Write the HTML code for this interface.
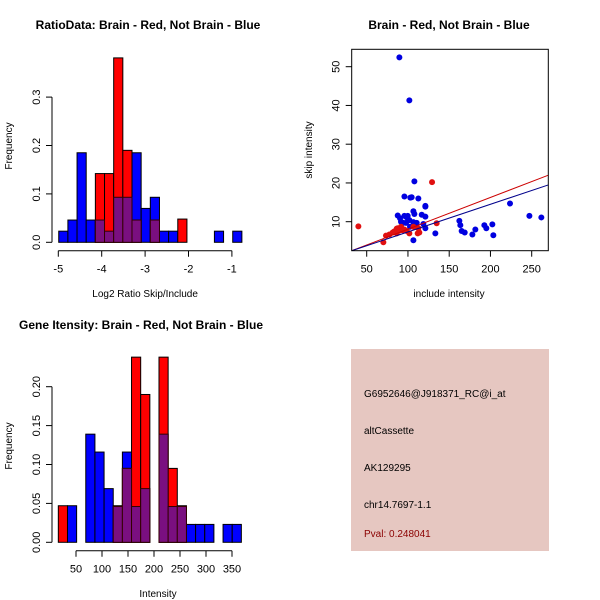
<!DOCTYPE html>
<html><head><meta charset="utf-8"><style>
body{margin:0;background:#fff}
svg{display:block;font-family:"Liberation Sans",sans-serif}
</style></head><body>
<svg id="chart" width="600" height="600" xmlns="http://www.w3.org/2000/svg">
<rect width="600" height="600" fill="#fff"/>
<text x="148" y="29" font-size="12" font-weight="bold" text-anchor="middle">RatioData: Brain - Red, Not Brain - Blue</text>
<text x="449" y="29" font-size="12" font-weight="bold" text-anchor="middle">Brain - Red, Not Brain - Blue</text>
<text x="141" y="329" font-size="12" font-weight="bold" text-anchor="middle">Gene Itensity: Brain - Red, Not Brain - Blue</text>
<g id="h1"></g>
<g id="h2"></g>
<g id="sc"></g>
<g>
<rect x="351" y="349" width="198" height="202" fill="#e6c7c1"/>
<text x="364" y="397" font-size="10">G6952646@J918371_RC@i_at</text>
<text x="364" y="434" font-size="10">altCassette</text>
<text x="364" y="471" font-size="10">AK129295</text>
<text x="364" y="508" font-size="10">chr14.7697-1.1</text>
<text x="364" y="537" font-size="10" fill="#8b0000">Pval: 0.248041</text>
</g>
</svg>
<script>
// Ratio histogram data
const h1Start = -4.99, h1Width = 0.211;
const h1Blue = [0.023,0.046,0.185,0.046,0.046,0.023,0.093,0.093,0.185,0.07,0.093,0.023,0.023,0,0,0,0,0.023,0,0.023];
const h1Red  = [0,0,0,0,0.142,0.142,0.381,0.19,0.046,0,0.046,0,0,0.048,0,0,0,0,0,0];
const h1XTicks = [-5,-4,-3,-2,-1];
const h1YTicks = ["0.0","0.1","0.2","0.3"];
// Intensity histogram data
const h2Start = 16, h2Width = 17.6;
const h2Blue = [0,0.047,0,0.139,0.116,0.069,0.046,0.116,0.046,0.069,0,0.139,0.046,0.046,0.023,0.023,0.023,0,0.023,0.023];
const h2Red  = [0.047,0,0,0,0,0,0.047,0.095,0.238,0.19,0,0.238,0.095,0.047,0,0,0,0,0,0];
const h2XTicks = [50,100,150,200,250,300,350];
const h2YTicks = ["0.00","0.05","0.10","0.15","0.20"];
// Scatter data
const blueX = [89.6,101.7,107.8,95.7,104.5,102.9,112.6,121.1,121.1,106.6,87.6,95.7,99.7,107.8,116.7,121.1,90.4,98.5,101.7,106.6,91.6,97.7,110.6,118.7,121.1,106.6,133.2,162.3,163.5,165.1,168.8,178.1,181.7,192.6,195.0,202.3,203.5,223.7,247.2,261.7,102.5,94.4];
const blueY = [52.4,41.3,20.4,16.5,16.3,16.2,16.0,14.1,13.9,12.7,11.6,11.5,11.5,12.0,11.8,11.3,10.9,11.1,10.4,9.9,10.0,9.7,9.7,9.4,8.3,5.2,7.0,10.2,9.1,7.6,7.2,6.7,8.0,9.1,8.3,9.3,6.5,14.7,11.5,11.1,8.7,9.7];
const redX = [39.9,70.2,73.4,77.5,81.5,83.5,86.4,87.6,89.6,91.6,93.6,95.7,98.5,101.7,106.6,112.6,113.8,111.8,134.8,129.2,86.4];
const redY = [8.8,4.7,6.4,6.7,7.2,7.5,7.0,8.3,7.7,8.7,7.8,8.0,7.6,7.0,8.7,8.3,7.2,7.0,9.6,20.2,8.2];
const fitRed = [-0.1,0.0818];
const fitBlue = [0.23,0.0713];
const scXTicks = [50,100,150,200,250];
const scYTicks = [10,20,30,40,50];

const NS="http://www.w3.org/2000/svg";
function mk(parent,tag,attrs,text){const e=document.createElementNS(NS,tag);for(const k in attrs)e.setAttribute(k,attrs[k]);if(text!==undefined)e.textContent=text;parent.appendChild(e);return e;}

function hist(g,start,w,blue,red,xs,ys,ysc,xticks,yticks,yStep,axisY,yAxisX,ytop,xlabel,ycenter,xlabelY){
  blue.forEach((v,i)=>{ if(v<=0)return;
    const b=mk(g,'rect',{x:xs(start+i*w),y:ys(v),width:xs(start+(i+1)*w)-xs(start+i*w),height:ys(0)-ys(v),fill:'#0000ff',stroke:'#000','stroke-width':1});
     });
  red.forEach((v,i)=>{ if(v<=0)return;
    const b=mk(g,'rect',{x:xs(start+i*w),y:ys(v),width:xs(start+(i+1)*w)-xs(start+i*w),height:ys(0)-ys(v),fill:'#ff0000',stroke:'#000','stroke-width':1});
     });
  blue.forEach((v,i)=>{ const m=Math.min(v,red[i]); if(m<=0)return;
    const b=mk(g,'rect',{x:xs(start+i*w),y:ys(m),width:xs(start+(i+1)*w)-xs(start+i*w),height:ys(0)-ys(m),fill:'#7a0f80',stroke:'#300','stroke-width':1});
     });
  // x axis
  mk(g,'line',{x1:xs(xticks[0]),x2:xs(xticks[xticks.length-1]),y1:axisY,y2:axisY,stroke:'#000'});
  xticks.forEach(t=>{mk(g,'line',{x1:xs(t),x2:xs(t),y1:axisY,y2:axisY+6,stroke:'#000'});
    const l=mk(g,'text',{x:xs(t),y:axisY+22,'font-size':11,'text-anchor':'middle'},String(t));
     });
  // y axis
  const yv=yticks.map(Number);
  mk(g,'line',{x1:yAxisX,x2:yAxisX,y1:ys(yv[0]),y2:ys(yv[yv.length-1]),stroke:'#000'});
  yticks.forEach(t=>{const y=ys(Number(t));mk(g,'line',{x1:yAxisX-6,x2:yAxisX,y1:y,y2:y,stroke:'#000'});
    const l=mk(g,'text',{x:yAxisX-12,y:y,'font-size':11,'text-anchor':'middle',transform:`rotate(-90 ${yAxisX-12} ${y})`},t);
     });
  const xl=mk(g,'text',{x:(xs(xticks[0])+xs(xticks[xticks.length-1]))/2+ (xlabel==='Intensity'?4:0),y:xlabelY,'font-size':10,'text-anchor':'middle'},xlabel);
   
  const yl=mk(g,'text',{x:12,y:ycenter,'font-size':10,'text-anchor':'middle',transform:`rotate(-90 12 ${ycenter})`},'Frequency');
   
}

// Histogram 1
(function(){
  const g=document.getElementById('h1');
  const xs=v=>58.3+(v+5)*43.4;
  const ys=v=>242.3-v*484;
  hist(g,h1Start,h1Width,h1Blue,h1Red,xs,ys,null,h1XTicks,h1YTicks,0.1,250.7,52,0,'Log2 Ratio Skip/Include',146,297);
})();
// Histogram 2
(function(){
  const g=document.getElementById('h2');
  const xs=v=>76+(v-50)*0.52;
  const ys=v=>542.3-v*778;
  hist(g,h2Start,h2Width,h2Blue,h2Red,xs,ys,null,h2XTicks,h2YTicks,0.05,550.7,52,0,'Intensity',446,597);
})();
// Scatter
(function(){
  const g=document.getElementById('sc');
  const xs=v=>366.7+(v-50)*0.825;
  const ys=v=>221.7-(v-10)*3.875;
  const L=351.7,R=548.3,T=49.3,B=250.7;
  const cp=mk(g,'clipPath',{id:'scclip'});mk(cp,'rect',{x:L,y:T,width:R-L,height:B-T});
  const pg=mk(g,'g',{'clip-path':'url(#scclip)'});
  blueX.forEach((x,i)=>{const c=mk(pg,'circle',{cx:xs(x),cy:ys(blueY[i]),r:3,fill:'#0000e0'});
     });
  redX.forEach((x,i)=>{const c=mk(pg,'circle',{cx:xs(x),cy:ys(redY[i]),r:3,fill:'#e01010'});
     });
  const x0=20,x1=300;
  const lr=mk(pg,'line',{x1:xs(x0),y1:ys(fitRed[0]+fitRed[1]*x0),x2:xs(x1),y2:ys(fitRed[0]+fitRed[1]*x1),stroke:'#cc0000','stroke-width':1});
   
  const lb=mk(pg,'line',{x1:xs(x0),y1:ys(fitBlue[0]+fitBlue[1]*x0),x2:xs(x1),y2:ys(fitBlue[0]+fitBlue[1]*x1),stroke:'#00008b','stroke-width':1});
   
  mk(g,'rect',{x:L,y:T,width:R-L,height:B-T,fill:'none',stroke:'#000'});
  scXTicks.forEach(t=>{mk(g,'line',{x1:xs(t),x2:xs(t),y1:B,y2:B+6,stroke:'#000'});
    const l=mk(g,'text',{x:xs(t),y:B+22,'font-size':11,'text-anchor':'middle'},String(t));
     });
  scYTicks.forEach(t=>{const y=ys(t);mk(g,'line',{x1:L-6,x2:L,y1:y,y2:y,stroke:'#000'});
    const l=mk(g,'text',{x:L-12,y:y,'font-size':11,'text-anchor':'middle',transform:`rotate(-90 ${L-12} ${y})`},String(t));
     });
  const xl=mk(g,'text',{x:449,y:297,'font-size':10,'text-anchor':'middle'},'include intensity');
   
  const yl=mk(g,'text',{x:312,y:150,'font-size':10,'text-anchor':'middle',transform:'rotate(-90 312 150)'},'skip intensity');
   
})();
</script>
</body></html>
